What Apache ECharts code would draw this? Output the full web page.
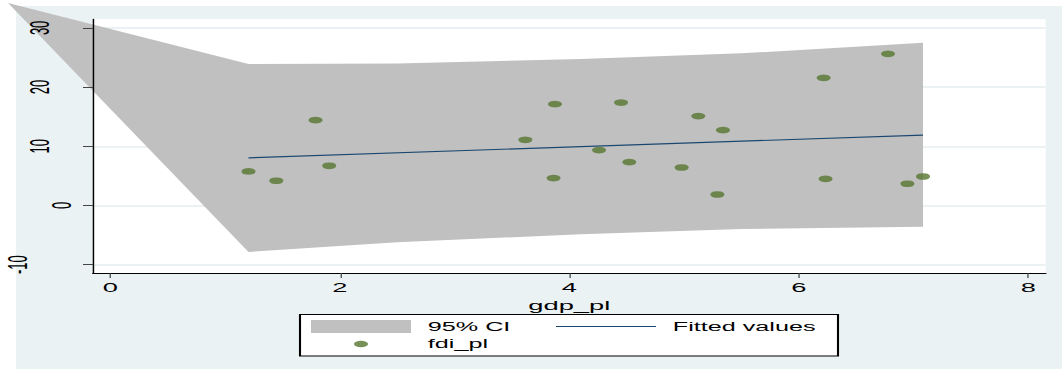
<!DOCTYPE html>
<html>
<head>
<meta charset="utf-8">
<title>fdi_pl vs gdp_pl</title>
<script src="https://cdn.jsdelivr.net/npm/echarts@6/dist/echarts.min.js"></script>
<style>
  html, body { margin: 0; padding: 0; background: #fff; overflow: hidden; }
  #chart { height: 369px; transform-origin: 0 0; }
</style>
</head>
<body>
<div id="chart"></div>
<script>
// scatter points (gdp_pl, fdi_pl)
const gdpPl = [1.205, 1.447, 1.789, 1.908, 3.617, 3.875, 3.863, 4.259, 4.451, 4.523,
  4.979, 5.124, 5.290, 5.339, 6.216, 6.233, 6.777, 6.946, 7.082];
const fdiPl = [5.75, 4.18, 14.42, 6.71, 11.10, 17.12, 4.63, 9.36, 17.39, 7.33,
  6.42, 15.10, 1.86, 12.73, 21.56, 4.51, 25.61, 3.67, 4.90];

// fitted values, both ends of the line
const fitX = [1.205, 7.082];
const fitY = [8.05, 11.9];

// 95% CI band
const ciX = [1.205, 2.5, 4.1, 5.5, 7.082];
const ciUpper = [23.9, 24.0, 24.75, 25.7, 27.5];
const ciLower = [-7.85, -6.2, -4.85, -3.95, -3.6];
const ciTip = [-0.89, 34.2]; // stray vertex the band starts from (top left)

const xTicks = [0, 2, 4, 6, 8];
const yTicks = [-10, 0, 10, 20, 30];

// the picture is stretched sideways: draw it narrow and widen it with css
const SX = 2.1;
const W = 1062;
const px = v => v / SX;

const dom = document.getElementById('chart');
dom.style.width = px(W) + 'px';
dom.style.transform = 'scaleX(' + SX + ')';
const chart = echarts.init(dom, null, { renderer: 'svg' });

const font = 'Liberation Sans, Arial, sans-serif';
// tiny zero-area segments keep the icon box at full size so the shape isn't scaled up
const lineIcon = 'path://M0,0L0.01,0M0,13L0.01,13M0,5.9H47.6V7.1H0Z';
const dotIcon = 'path://M0,0L0.01,0M47.6,13L47.59,13M20.45,6.5A3.35,3.35,0,1,0,27.15,6.5A3.35,3.35,0,1,0,20.45,6.5Z';

const yRange = { type: 'value', min: -11.4, max: 31.5, position: 'left' };

const option = {
  animation: false,
  textStyle: { fontFamily: font },
  graphic: [
    {
      type: 'rect', z: -10,
      shape: { x: px(16), y: 6, width: px(W - 16), height: 363 },
      style: { fill: '#eaf2f3' }
    },
    {
      type: 'rect', z: 10,
      shape: { x: px(300), y: 314.5, width: px(538), height: 41.5 },
      style: { fill: '#fff', stroke: '#000', lineWidth: 1 }
    }
  ],
  grid: {
    z: -5,
    left: px(93), right: px(W - 1045), top: 19, bottom: 96,
    show: true, backgroundColor: '#fff', borderWidth: 0
  },
  legend: {
    z: 20,
    selectedMode: false,
    left: px(311), top: 320, width: px(560), padding: 0,
    itemWidth: px(100), itemHeight: 13, itemGap: 4.5,
    itemStyle: { borderWidth: 0 },
    textStyle: { fontSize: 12, color: '#000', lineHeight: 13, padding: [0, 0, 0, 3] },
    data: [
      { name: '95% CI', icon: 'rect', textStyle: { width: px(556) - 4.5 - (px(311) + px(100) + 5) - 3 } },
      { name: 'Fitted values', icon: lineIcon },
      { name: 'fdi_pl', icon: dotIcon }
    ]
  },
  xAxis: {
    type: 'value', min: -0.15, max: 8.15, z: 5,
    name: 'gdp_pl', nameLocation: 'middle', nameGap: 17,
    nameTextStyle: { color: '#000', fontSize: 13 },
    axisLine: { onZero: false, lineStyle: { color: '#000', width: 1 } },
    axisTick: { show: true, length: 5, customValues: xTicks, lineStyle: { color: '#444', width: 0.6 } },
    axisLabel: { customValues: xTicks, margin: 8, fontSize: 13, color: '#000' },
    splitLine: { show: false }
  },
  yAxis: [
    // grid lines only, kept under the band
    Object.assign({}, yRange, {
      z: -3,
      axisLine: { show: false },
      axisTick: { show: false, customValues: yTicks },
      axisLabel: { show: false, customValues: yTicks },
      splitLine: { show: true, lineStyle: { color: '#e6eef0', width: 1.6 } }
    }),
    // axis line, ticks and labels, drawn over the band
    Object.assign({}, yRange, {
      z: 5,
      axisLine: { show: true, onZero: false, lineStyle: { color: '#000', width: 0.7 } },
      axisTick: { show: true, length: px(10), customValues: yTicks, lineStyle: { color: '#444', width: 1 } },
      axisLabel: {
        customValues: yTicks, rotate: 90, margin: 9.5, lineHeight: 10.5,
        fontSize: 13, color: '#000',
        // longer labels sit further from the axis, as in the picture
        formatter: v => { const s = String(v); return s + '\n'.repeat(s.length - 1); }
      },
      splitLine: { show: false }
    })
  ],
  series: [
    {
      name: '95% CI',
      type: 'custom',
      z: 1,
      clip: false,
      itemStyle: { color: '#c0c0c0' },
      data: [[ciX[0], ciUpper[0]]],
      renderItem: (params, api) => {
        const pts = [api.coord(ciTip)];
        ciX.forEach((x, i) => pts.push(api.coord([x, ciUpper[i]])));
        for (let i = ciX.length - 1; i >= 0; i--) {
          pts.push(api.coord([ciX[i], ciLower[i]]));
        }
        return { type: 'polygon', shape: { points: pts }, style: { fill: '#c0c0c0' } };
      }
    },
    {
      name: 'Fitted values',
      type: 'line',
      z: 3,
      symbol: 'none',
      data: fitX.map((x, i) => [x, fitY[i]]),
      itemStyle: { color: '#1a476f' },
      lineStyle: { color: '#1a476f', width: 1.2 }
    },
    {
      name: 'fdi_pl',
      type: 'scatter',
      z: 4,
      symbol: 'circle',
      symbolSize: 6.7,
      data: gdpPl.map((x, i) => [x, fdiPl[i]]),
      itemStyle: { color: '#55752f' }
    }
  ]
};

chart.setOption(option);
</script>
</body>
</html>
